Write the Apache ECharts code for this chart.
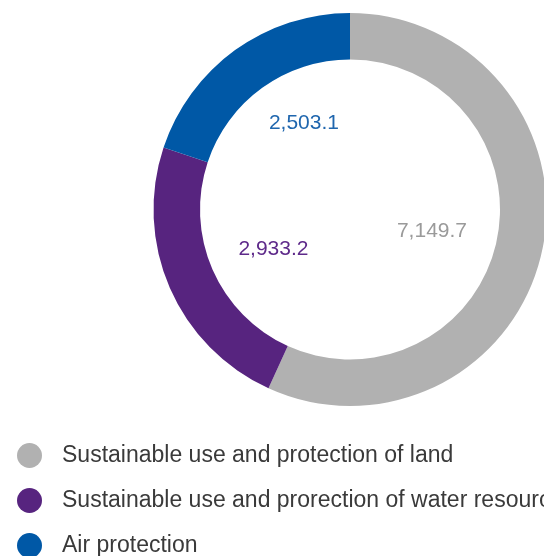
<!DOCTYPE html>
<html><head><meta charset="utf-8">
<script src="https://cdn.jsdelivr.net/npm/echarts@6/dist/echarts.min.js"></script>
<style>html,body{margin:0;padding:0;background:#fff}#c{width:544px;height:556px}</style>
</head><body><div id="c"></div>
<script>
var categories = ["Sustainable use and protection of land", "Sustainable use and prorection of water resources", "Air protection"];
var values = [7149.7, 2933.2, 2503.1];
var valueLabels = ["7,149.7", "2,933.2", "2,503.1"];
var colors = ["#b1b1b1", "#57247f", "#0058a6"];
var labelColors = ["#9a9a9a", "#5e2a8a", "#1f66ae"];
var labelOffsets = [[-5, 3], [5, 4], [6, -14]];

var chart = echarts.init(document.getElementById('c'), null, {renderer: 'canvas'});
var font = '"Liberation Sans", Arial, sans-serif';
chart.setOption({
  animation: false,
  legend: {
    orient: 'vertical', left: 17, top: 443, height: 200, padding: 0,
    icon: 'circle', itemWidth: 25, itemHeight: 25, itemGap: 20,
    textStyle: {fontFamily: font, fontSize: 23, color: '#3a3a3a', padding: [0, 0, 0, 15]},
    data: categories
  },
  series: [{
    type: 'pie', center: [350, 209.5], radius: [150, 196.5], startAngle: 90, clockwise: true,
    silent: true, label: {show: false}, labelLine: {show: false},
    data: categories.map(function (c, i) { return {name: c, value: values[i], itemStyle: {color: colors[i]}}; })
  }, {
    type: 'pie', center: [350, 209.5], radius: [0, 172], startAngle: 90, clockwise: true,
    silent: true, labelLine: {show: false},
    itemStyle: {color: 'rgba(0,0,0,0)'},
    label: {show: true, position: 'inside', fontFamily: font, fontSize: 21},
    data: categories.map(function (c, i) {
      return {name: c + ' ', value: values[i],
        label: {formatter: valueLabels[i], color: labelColors[i], offset: labelOffsets[i]}};
    })
  }]
});
</script></body></html>
